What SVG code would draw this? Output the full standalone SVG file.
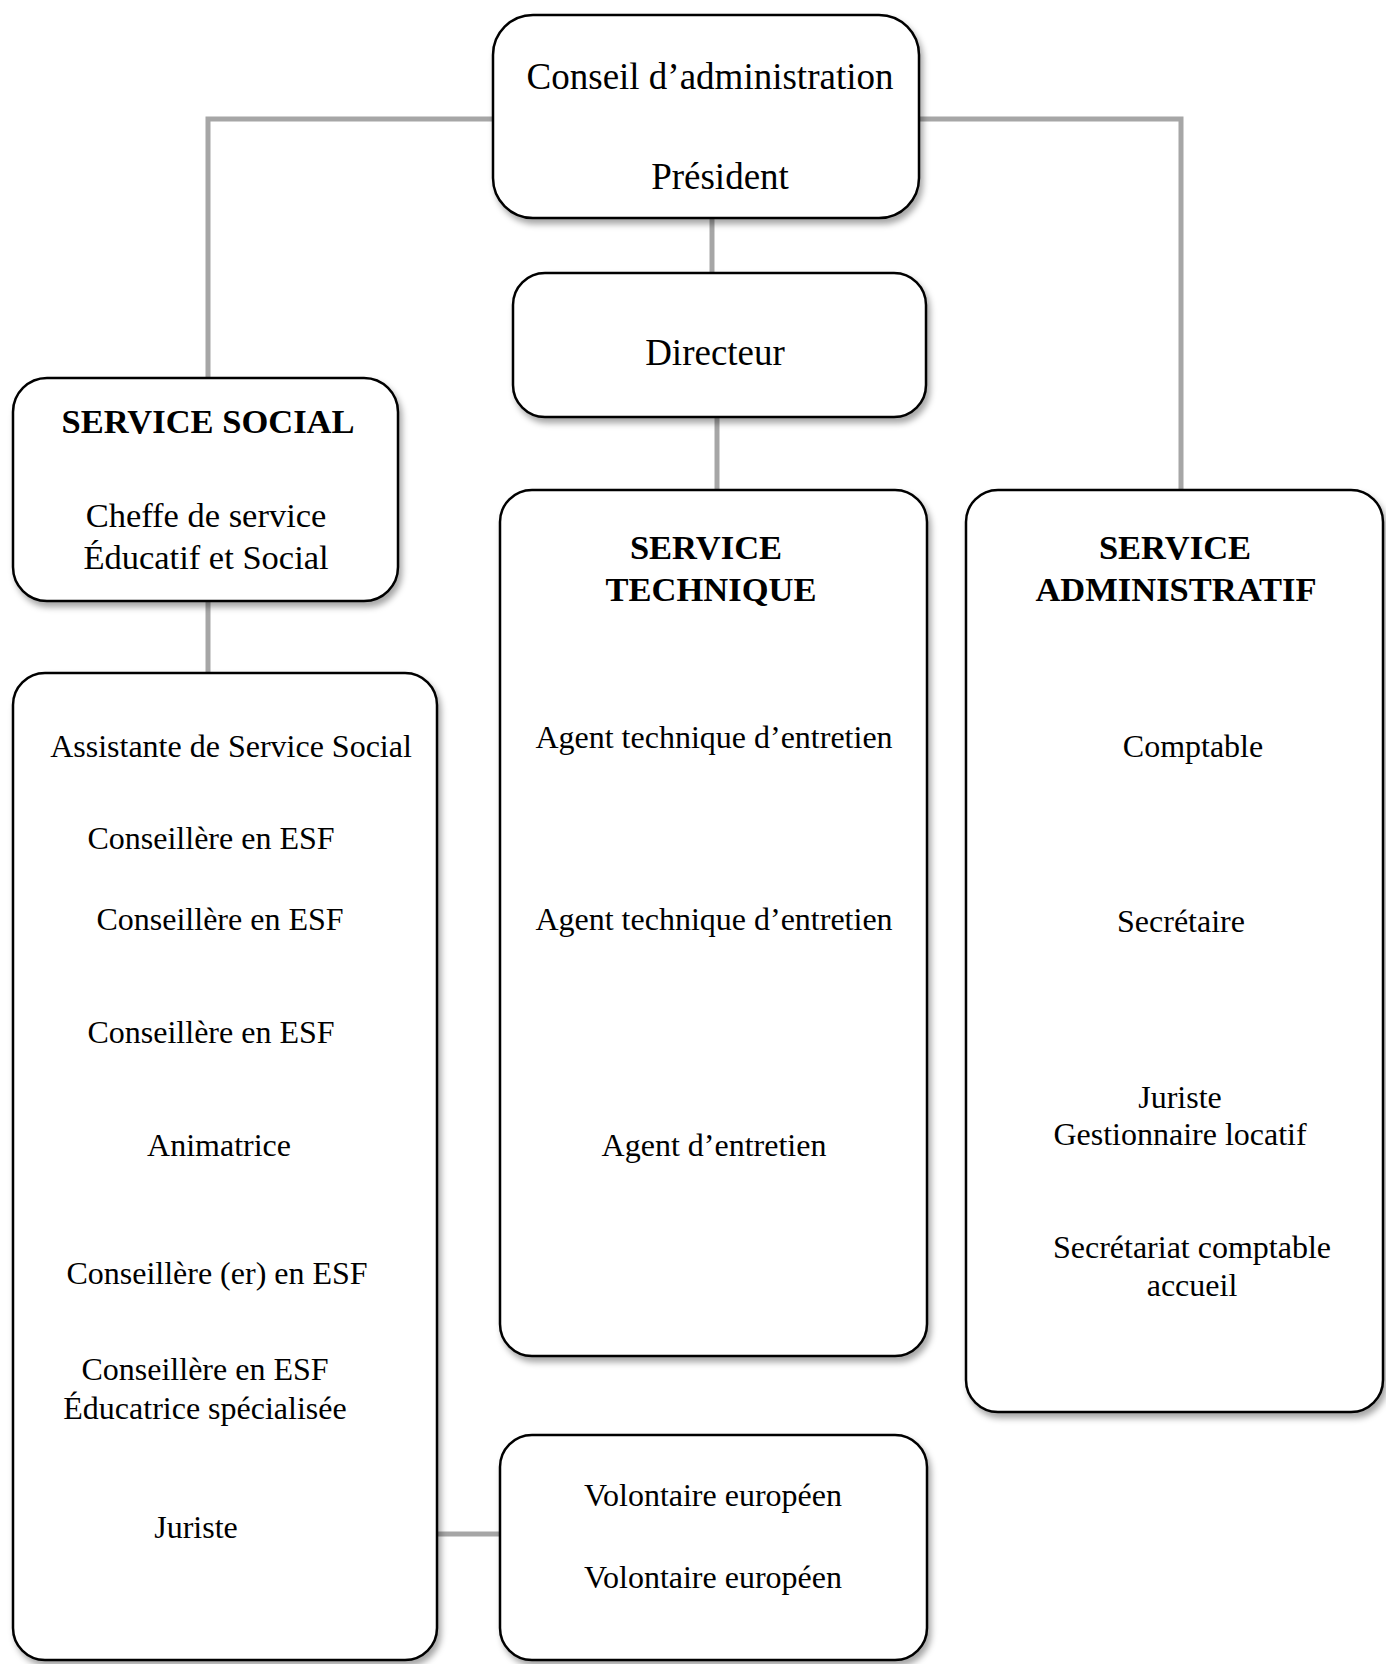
<svg xmlns="http://www.w3.org/2000/svg" width="1386" height="1664" viewBox="0 0 1386 1664">
<defs>
<filter id="sh" x="-10%" y="-10%" width="125%" height="125%">
<feDropShadow dx="3" dy="5" stdDeviation="3" flood-color="#000" flood-opacity="0.35"/>
</filter>
<style>
.box{fill:#fff;stroke:#000;stroke-width:2.5;filter:url(#sh)}
.t{font-family:"Liberation Serif","Times New Roman",serif;font-size:32px;fill:#000;text-anchor:middle}
.big{font-size:37px}
.mid{font-size:34.5px}
.b{font-weight:bold;font-size:34.5px}
.ln{fill:none;stroke:#a6a6a6;stroke-width:5}
</style>
</defs>
<rect width="1386" height="1664" fill="#fff"/>
<g id="connectors">
<polyline class="ln" points="493,119 208,119 208,378"/>
<polyline class="ln" points="919,119 1181,119 1181,490"/>
<line class="ln" x1="712" y1="218" x2="712" y2="273"/>
<line class="ln" x1="717" y1="417" x2="717" y2="490"/>
<line class="ln" x1="208" y1="601" x2="208" y2="673"/>
<line class="ln" x1="437" y1="1534" x2="500" y2="1534"/>
</g>
<g id="conseil">
<rect class="box" x="493" y="15" width="426" height="203" rx="40"/>
<text class="t big" x="710" y="89">Conseil d’administration</text>
<text class="t big" x="720" y="189">Président</text>
</g>
<g id="directeur">
<rect class="box" x="513" y="273" width="413" height="144" rx="32"/>
<text class="t big" x="715" y="365">Directeur</text>
</g>
<g id="service-social">
<rect class="box" x="13" y="378" width="385" height="223" rx="34"/>
<text class="t b" x="208" y="433">SERVICE SOCIAL</text>
<text class="t mid" x="206" y="527">Cheffe de service</text>
<text class="t mid" x="206" y="569">Éducatif et Social</text>
</g>
<g id="social-staff">
<rect class="box" x="13" y="673" width="424" height="987" rx="32"/>
<text class="t" x="231" y="757">Assistante de Service Social</text>
<text class="t" x="211" y="849">Conseillère en ESF</text>
<text class="t" x="220" y="930">Conseillère en ESF</text>
<text class="t" x="211" y="1043">Conseillère en ESF</text>
<text class="t" x="219" y="1156">Animatrice</text>
<text class="t" x="217" y="1284">Conseillère (er) en ESF</text>
<text class="t" x="205" y="1380">Conseillère en ESF</text>
<text class="t" x="205" y="1419">Éducatrice spécialisée</text>
<text class="t" x="196" y="1538">Juriste</text>
</g>
<g id="service-technique">
<rect class="box" x="500" y="490" width="427" height="866" rx="32"/>
<text class="t b" x="706" y="559">SERVICE</text>
<text class="t b" x="711" y="601">TECHNIQUE</text>
<text class="t" x="714" y="748">Agent technique d’entretien</text>
<text class="t" x="714" y="930">Agent technique d’entretien</text>
<text class="t" x="714" y="1156">Agent d’entretien</text>
</g>
<g id="service-administratif">
<rect class="box" x="966" y="490" width="417" height="922" rx="32"/>
<text class="t b" x="1175" y="559">SERVICE</text>
<text class="t b" x="1176" y="601">ADMINISTRATIF</text>
<text class="t" x="1193" y="757">Comptable</text>
<text class="t" x="1181" y="932">Secrétaire</text>
<text class="t" x="1180" y="1108">Juriste</text>
<text class="t" x="1180" y="1145">Gestionnaire locatif</text>
<text class="t" x="1192" y="1258">Secrétariat comptable</text>
<text class="t" x="1192" y="1296">accueil</text>
</g>
<g id="volontaires">
<rect class="box" x="500" y="1435" width="427" height="225" rx="32"/>
<text class="t" x="713" y="1506">Volontaire européen</text>
<text class="t" x="713" y="1588">Volontaire européen</text>
</g>
</svg>
